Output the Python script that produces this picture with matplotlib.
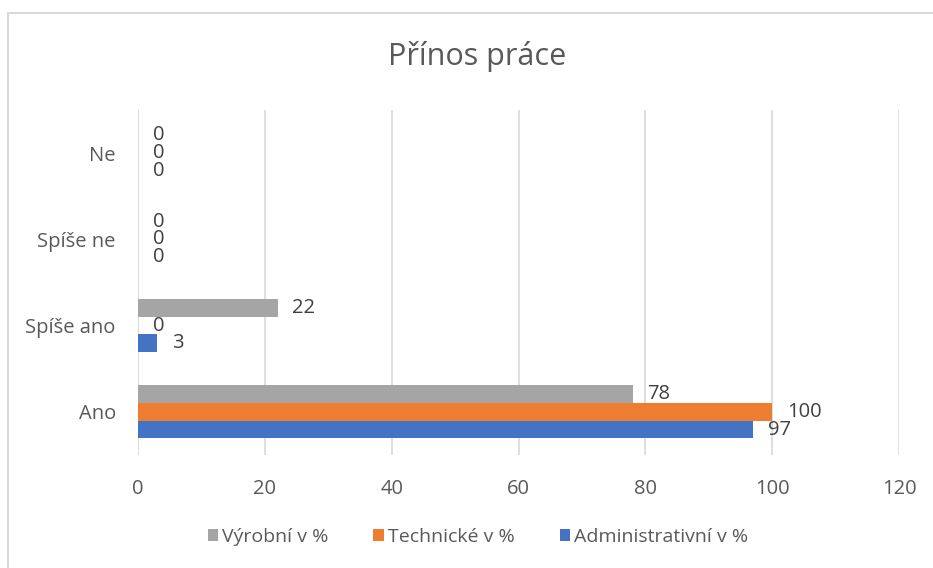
import matplotlib.pyplot as plt
from matplotlib.patches import Rectangle
import numpy as np

plt.rcParams['font.family'] = ['Open Sans', 'DejaVu Sans']

categories = ["Ano", "Spíše ano", "Spíše ne", "Ne"]
series_names = ["Administrativní v %", "Technické v %", "Výrobní v %"]
administrativni = [97, 3, 0, 0]
technicke = [100, 0, 0, 0]
vyrobni = [78, 22, 0, 0]
colors = ["#4472C4", "#ED7D31", "#A5A5A5"]
ticks = [0, 20, 40, 60, 80, 100, 120]

W, H = 933, 568
fig = plt.figure(figsize=(W / 100, H / 100), dpi=100)

# chart-area frame like Excel
fig.patches.append(Rectangle((8 / W, 0 - 0.01), 1.0, 1 - 13 / H + 0.01,
                             transform=fig.transFigure, fill=False,
                             edgecolor="#D9D9D9", linewidth=1.5))

ax = fig.add_axes([138 / W, 1 - 455 / H, (899 - 138) / W, (455 - 110) / H])

y = np.arange(len(categories))
h = 0.205
data = [administrativni, technicke, vyrobni]
offsets = [-h, 0, h]
for vals, name, col, off in zip(data, series_names, colors, offsets):
    ax.barh(y + off, vals, height=h, color=col, label=name, zorder=3)
    for yy, v in zip(y + off, vals):
        ax.text(v + 2.3, yy, str(v), va="center", ha="left",
                fontsize=14.5, color="#404040")

ax.set_xlim(0, 120)
ax.set_ylim(-0.5, len(categories) - 0.5)
ax.set_xticks(ticks)
ax.set_yticks(y)
ax.set_yticklabels(categories)
ax.tick_params(axis="both", length=0, labelsize=14.5, labelcolor="#595959")
ax.tick_params(axis="x", pad=17)
ax.tick_params(axis="y", pad=16)
ax.grid(axis="x", color="#D9D9D9", linewidth=1.2, zorder=0)
for s in ax.spines.values():
    s.set_visible(False)
ax.axvline(0, color="#D9D9D9", linewidth=1.2, zorder=1)

fig.text(477 / W, 1 - 57 / H, "Přínos práce", ha="center", va="center",
         fontsize=22, color="#595959")

handles, labels = ax.get_legend_handles_labels()
fig.legend(handles[::-1], labels[::-1], loc="center",
           bbox_to_anchor=(478 / W, 1 - 537 / H), ncol=3, frameon=False,
           fontsize=14, labelcolor="#595959", handlelength=0.55,
           handleheight=0.55, handletextpad=0.2, columnspacing=2.3)

fig.savefig("out.png", dpi=100)
